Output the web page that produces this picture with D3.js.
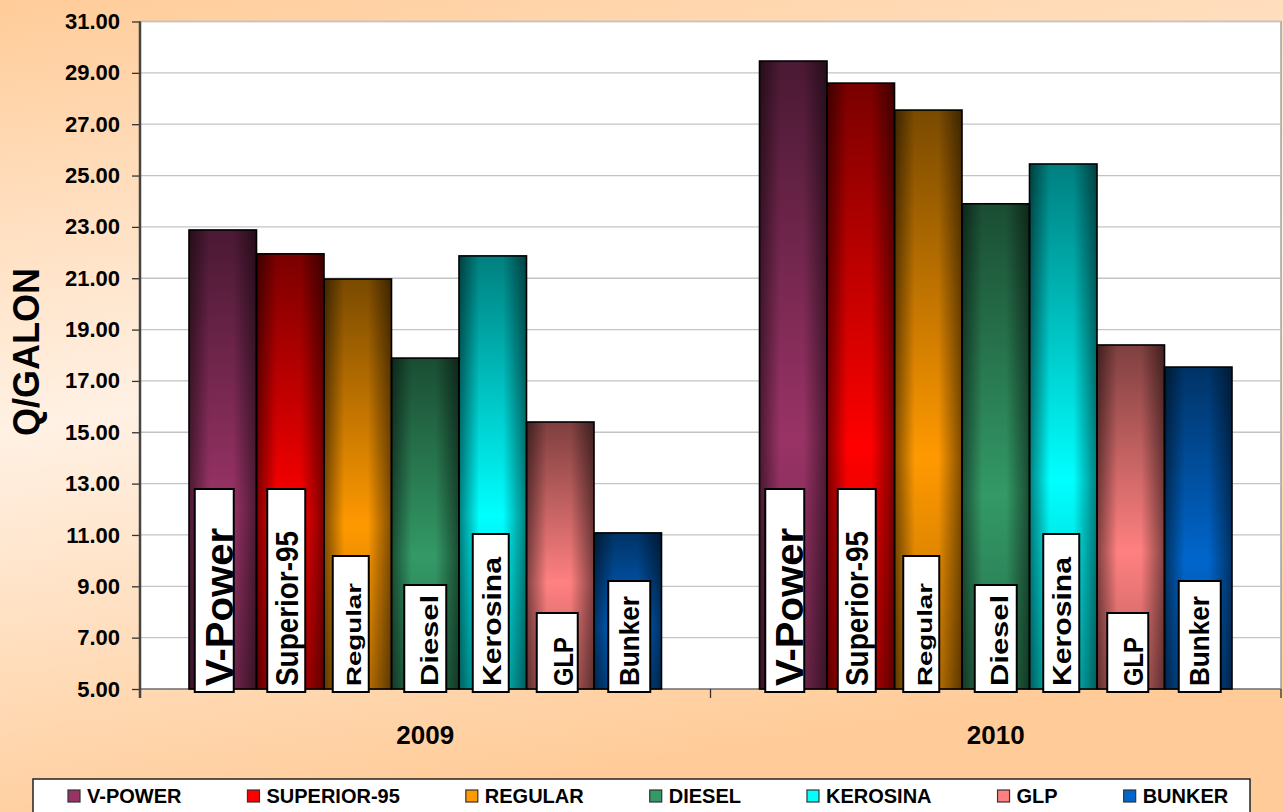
<!DOCTYPE html>
<html>
<head>
<meta charset="utf-8">
<script src="https://cdn.jsdelivr.net/npm/d3@7"></script>
<style>
  body { margin: 0; padding: 0; overflow: hidden; }
  svg { display: block; font-family: "Liberation Sans", Arial, sans-serif; }
</style>
</head>
<body>
<div id="chart"></div>
<script>
// data
var years = ["2009", "2010"];
var fuels = ["V-POWER", "SUPERIOR-95", "REGULAR", "DIESEL", "KEROSINA", "GLP", "BUNKER"];
var barLabels = ["V-Power", "Superior-95", "Regular", "Diesel", "Kerosina", "GLP", "Bunker"];
var prices2009 = [22.88, 21.95, 20.97, 17.89, 21.87, 15.40, 11.08];
var prices2010 = [29.46, 28.60, 27.55, 23.90, 25.45, 18.40, 17.54];
var yTicks = [5, 7, 9, 11, 13, 15, 17, 19, 21, 23, 25, 27, 29, 31];

// colours: base (light) and shade (dark top)
var baseColors = ["#993366", "#FF0000", "#FF9900", "#339966", "#00FFFF", "#FF8080", "#0066CC"];
var darkColors = ["#4A1933", "#7A0000", "#7A4A00", "#1A4D33", "#007F7F", "#7F3F3F", "#003366"];

// look of the white label boxes (w, h in px, font size, text length, offsets)
var labelStyle = [
  {dx: -8.5, w: 39, h: 203, fs: 38, len: 158, tdx: 5},
  {dx: -4,   w: 38, h: 203, fs: 32, len: 155, tdx: 0},
  {dx: -7,   w: 36, h: 136, fs: 21, len: 103, tdx: 3},
  {dx: 0,    w: 42, h: 107, fs: 24, len: 91,  tdx: 4},
  {dx: -2,   w: 36, h: 158, fs: 25, len: 129, tdx: 1},
  {dx: -3,   w: 41, h: 79,  fs: 27, len: 49,  tdx: 6},
  {dx: 1.5,  w: 42, h: 111, fs: 27, len: 90,  tdx: 0}
];

var w = 1283;
var h = 812;
var margin = {top: 21.5, right: 2, bottom: 123, left: 140};

var rows = years.map(function(y, i){
  var vals = i == 0 ? prices2009 : prices2010;
  return {year: y, values: fuels.map(function(f, j){ return {fuel: f, idx: j, value: vals[j]}; })};
});

var svg = d3.select("#chart")
  .append("svg")
  .attr("width", w)
  .attr("height", h);

var defs = svg.append("defs");

// background gradient
var bg = defs.append("linearGradient").attr("id", "bg")
  .attr("x1", 0).attr("y1", 0).attr("x2", 0.25).attr("y2", 1);
bg.append("stop").attr("offset", "0%").attr("stop-color", "#FFCC99");
bg.append("stop").attr("offset", "50%").attr("stop-color", "#FFF1E4");
bg.append("stop").attr("offset", "100%").attr("stop-color", "#FFCC99");

// bar gradients
fuels.forEach(function(f, i){
  var g = defs.append("linearGradient").attr("id", "bar" + i)
    .attr("x1", 0).attr("y1", 0).attr("x2", 0).attr("y2", 1);
  g.append("stop").attr("offset", "0%").attr("stop-color", darkColors[i]);
  g.append("stop").attr("offset", "60%").attr("stop-color", baseColors[i]);
  g.append("stop").attr("offset", "100%").attr("stop-color", d3.interpolateRgb(baseColors[i], darkColors[i])(0.55));
});
var edge = defs.append("linearGradient").attr("id", "edge")
  .attr("x1", 0).attr("y1", 0).attr("x2", 1).attr("y2", 0);
edge.append("stop").attr("offset", "0%").attr("stop-color", "#000").attr("stop-opacity", 0.5);
edge.append("stop").attr("offset", "30%").attr("stop-color", "#000").attr("stop-opacity", 0);
edge.append("stop").attr("offset", "65%").attr("stop-color", "#000").attr("stop-opacity", 0);
edge.append("stop").attr("offset", "100%").attr("stop-color", "#000").attr("stop-opacity", 0.5);

svg.append("rect")
  .attr("width", w).attr("height", h)
  .attr("fill", "url(#bg)");

var x0 = d3.scaleBand()
  .domain(years)
  .range([margin.left, w - margin.right])
  .padding(0);

var x1 = d3.scaleBand()
  .domain(fuels)
  .range([0, x0.bandwidth()])
  .paddingInner(0)
  .paddingOuter(0.726);

var y = d3.scaleLinear()
  .domain([5, 31])
  .range([h - margin.bottom, margin.top]);

var bottom = y(5);

// plot area
svg.append("rect")
  .attr("x", margin.left).attr("y", margin.top)
  .attr("width", x0.range()[1] - margin.left)
  .attr("height", bottom - margin.top)
  .attr("fill", "#fff")
  .attr("stroke", "#8a8a8a")
  .attr("stroke-width", 1.2);

// grid lines
svg.append("g")
  .selectAll("line")
  .data(yTicks.slice(1))
  .enter()
  .append("line")
  .attr("x1", margin.left).attr("x2", x0.range()[1])
  .attr("y1", function(d){ return y(d); })
  .attr("y2", function(d){ return y(d); })
  .attr("stroke", "#c4c4c4")
  .attr("stroke-width", 1.3);

// y axis
var yAxis = d3.axisLeft(y)
  .tickValues(yTicks)
  .tickFormat(d3.format(".2f"))
  .tickSize(8)
  .tickPadding(12);

var ya = svg.append("g")
  .attr("transform", "translate(" + margin.left + ",0)")
  .call(yAxis);
ya.select(".domain").remove();
ya.selectAll(".tick line").attr("stroke", "#333").attr("stroke-width", 1.3);
ya.selectAll("text")
  .attr("font-size", 22)
  .attr("font-weight", "bold")
  .attr("fill", "#000")
  .attr("font-family", "Liberation Sans, Arial, sans-serif");

// x axis
var xa = svg.append("g")
  .attr("transform", "translate(0," + bottom + ")");
xa.append("line")
  .attr("x1", margin.left).attr("x2", x0.range()[1])
  .attr("stroke", "#666").attr("stroke-width", 1.2);
xa.selectAll(".xt")
  .data([margin.left, x0("2010"), x0.range()[1]])
  .enter()
  .append("line")
  .attr("x1", function(d){ return d; }).attr("x2", function(d){ return d; })
  .attr("y1", 0).attr("y2", 9)
  .attr("stroke", "#333").attr("stroke-width", 1.3);
xa.selectAll("text")
  .data(years)
  .enter()
  .append("text")
  .attr("x", function(d){ return x0(d) + x0.bandwidth() / 2; })
  .attr("y", 55)
  .attr("text-anchor", "middle")
  .attr("font-size", 26)
  .attr("font-weight", "bold")
  .text(function(d){ return d; });

// left axis line
svg.append("line")
  .attr("x1", margin.left).attr("x2", margin.left)
  .attr("y1", margin.top).attr("y2", bottom + 9)
  .attr("stroke", "#444").attr("stroke-width", 2.5);

// y title
svg.append("text")
  .attr("transform", "translate(39,352) rotate(-90)")
  .attr("text-anchor", "middle")
  .attr("font-size", 36)
  .attr("font-weight", "bold")
  .text("Q/GALON");

// bars
var groups = svg.selectAll(".year")
  .data(rows)
  .enter()
  .append("g")
  .attr("class", "year")
  .attr("transform", function(d){ return "translate(" + x0(d.year) + ",0)"; });

groups.selectAll(".bar")
  .data(function(d){ return d.values; })
  .enter()
  .append("rect")
  .attr("class", "bar")
  .attr("x", function(d){ return x1(d.fuel); })
  .attr("y", function(d){ return y(d.value); })
  .attr("width", x1.bandwidth())
  .attr("height", function(d){ return bottom - y(d.value); })
  .attr("fill", function(d){ return "url(#bar" + d.idx + ")"; });

groups.selectAll(".shade")
  .data(function(d){ return d.values; })
  .enter()
  .append("rect")
  .attr("class", "shade")
  .attr("x", function(d){ return x1(d.fuel); })
  .attr("y", function(d){ return y(d.value); })
  .attr("width", x1.bandwidth())
  .attr("height", function(d){ return bottom - y(d.value); })
  .attr("fill", "url(#edge)")
  .attr("stroke", "#000")
  .attr("stroke-width", 1.6);

// white label boxes with rotated names
var lab = groups.selectAll(".lab")
  .data(function(d){ return d.values; })
  .enter()
  .append("g")
  .attr("class", "lab");

lab.append("rect")
  .attr("x", function(d){ var s = labelStyle[d.idx]; return x1(d.fuel) + x1.bandwidth() / 2 + s.dx - s.w / 2; })
  .attr("y", function(d){ return bottom + 3 - labelStyle[d.idx].h; })
  .attr("width", function(d){ return labelStyle[d.idx].w; })
  .attr("height", function(d){ return labelStyle[d.idx].h; })
  .attr("fill", "#fff")
  .attr("stroke", "#000")
  .attr("stroke-width", 2);

lab.append("text")
  .attr("transform", function(d){
    var s = labelStyle[d.idx];
    var cx = x1(d.fuel) + x1.bandwidth() / 2 + s.dx + s.tdx + s.fs * 0.36;
    return "translate(" + cx + "," + (bottom - 3) + ") rotate(-90)";
  })
  .attr("font-size", function(d){ return labelStyle[d.idx].fs; })
  .attr("font-weight", "bold")
  .attr("textLength", function(d){ return labelStyle[d.idx].len; })
  .attr("lengthAdjust", "spacingAndGlyphs")
  .text(function(d){ return barLabels[d.idx]; });

// legend
var leg = svg.append("g");
leg.append("rect")
  .attr("x", 33).attr("y", 779)
  .attr("width", 1217).attr("height", 50)
  .attr("fill", "#fff")
  .attr("stroke", "#222")
  .attr("stroke-width", 1.5);

var lx = 68;
fuels.forEach(function(f, i){
  leg.append("rect")
    .attr("x", lx).attr("y", 790)
    .attr("width", 12).attr("height", 12)
    .attr("fill", baseColors[i])
    .attr("stroke", "#333")
    .attr("stroke-width", 1.2);
  var t = leg.append("text")
    .attr("x", lx + 19).attr("y", 803)
    .attr("font-size", 20)
    .attr("font-weight", "bold")
    .text(f);
  lx = lx + 19 + t.node().getComputedTextLength() + 66;
});
</script>
</body>
</html>
